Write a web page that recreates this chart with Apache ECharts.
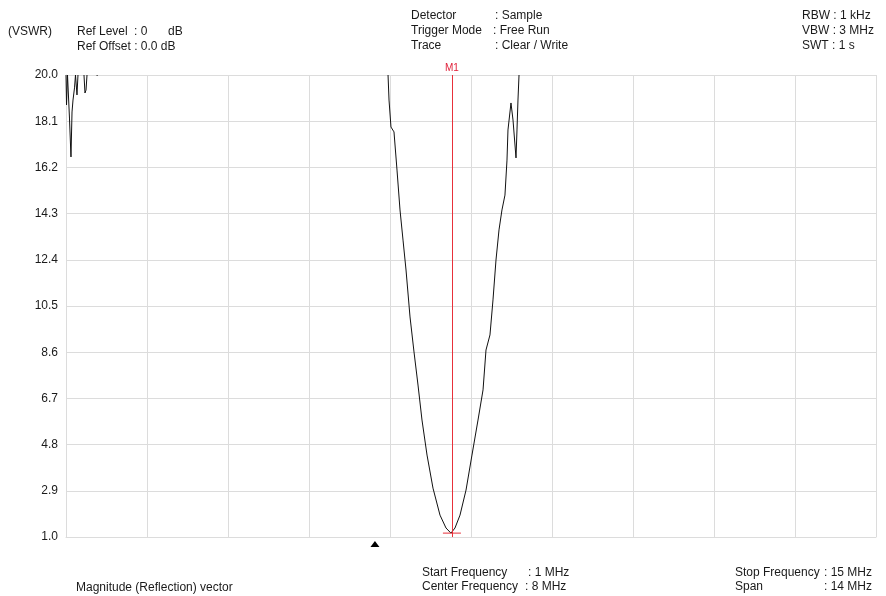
<!DOCTYPE html>
<html>
<head>
<meta charset="utf-8">
<script src="https://cdn.jsdelivr.net/npm/echarts@6/dist/echarts.min.js"></script>
<style>
  html, body { margin: 0; padding: 0; background: #ffffff; }
  #chart { width: 886px; height: 596px; }
</style>
</head>
<body>
<div id="chart"></div>
<script>
// Sweep 1 - 15 MHz, VSWR trace (null = trace above the 20.0 reference, not drawn)
const freqMHz = [
  1.000, 1.009, 1.026, 1.060, 1.086, 1.104, 1.121, 1.147, 1.164, 1.190, 1.207, null,
  1.311, 1.328, 1.346, 1.363, null,
  1.530, 1.545, null,
  6.566, 6.583, 6.617, 6.669, 6.721, 6.773, 6.825, 6.877, 6.946, 7.015, 7.084, 7.153,
  7.240, 7.343, 7.464, 7.568, 7.654, 7.723, 7.810, 7.914, 8.017, 8.121, 8.208, 8.259,
  8.328, 8.380, 8.432, 8.484, 8.535, 8.587, 8.622, 8.639, 8.691, 8.726, 8.778, 8.795,
  8.812, 8.830
];
const vswr = [
  20.00, 18.77, 20.00, 18.23, 16.63, 18.48, 18.97, 19.47, 20.00, 19.18, 20.00, null,
  20.00, 19.26, 19.38, 20.00, null,
  20.00, 19.96, null,
  20.00, 18.97, 17.86, 17.66, 16.09, 14.45, 13.21, 11.98, 10.05, 8.61, 7.25, 5.81,
  4.37, 3.01, 1.90, 1.37, 1.16, 1.37, 1.90, 2.93, 4.37, 5.81, 7.05, 8.69,
  9.31, 10.75, 12.39, 13.63, 14.45, 15.06, 16.50, 17.74, 18.85, 18.15, 16.59, 17.74,
  18.97, 20.00
];

// Ten divisions on each axis
const yTicks = [1.0, 2.9, 4.8, 6.7, 8.6, 10.5, 12.4, 14.3, 16.2, 18.1, 20.0];
const xTicks = [1, 2.4, 3.8, 5.2, 6.6, 8, 9.4, 10.8, 12.2, 13.6, 15];

// Marker M1 and the sweep-position indicator
const markerFreq = 7.67;
const markerVswr = 1.16;
const sweepPosFreq = 6.34;

const tracePoints = freqMHz.map((f, i) => (f === null ? [NaN, NaN] : [f, vswr[i]]));

const FONT = '"Liberation Sans", Arial, sans-serif';
const TXT = '#1a1a1a';
const GRID = '#dcdcdc';

function txt(x, y, s, extra) {
  return Object.assign({
    type: 'text', x: x, y: y, silent: true,
    style: { text: s, fill: TXT, font: '12px ' + FONT, textVerticalAlign: 'middle' }
  }, extra || {});
}

const chart = echarts.init(document.getElementById('chart'), null, { renderer: 'canvas' });

chart.setOption({
  animation: false,
  backgroundColor: '#ffffff',
  grid: { left: 66, right: 10, top: 75, bottom: 59, containLabel: false },
  xAxis: {
    type: 'value', min: 1, max: 15,
    axisLine: { show: true, lineStyle: { color: GRID } },
    axisTick: { show: false, customValues: xTicks },
    axisLabel: { show: false, customValues: xTicks },
    splitLine: { show: true, lineStyle: { color: GRID, width: 1 } }
  },
  yAxis: {
    type: 'value', min: 1, max: 20,
    axisLine: { show: true, lineStyle: { color: GRID } },
    axisTick: { show: false, customValues: yTicks },
    axisLabel: {
      customValues: yTicks, margin: 8, color: TXT, fontSize: 12, fontFamily: FONT,
      formatter: v => v.toFixed(1)
    },
    splitLine: { show: true, lineStyle: { color: GRID, width: 1 } }
  },
  graphic: [
    txt(8, 32, '(VSWR)'),
    txt(77, 32, 'Ref Level'),
    txt(134, 32, ': 0'),
    txt(168, 32, 'dB'),
    txt(77, 47, 'Ref Offset : 0.0 dB'),

    txt(411, 16, 'Detector'),
    txt(495, 16, ': Sample'),
    txt(411, 31, 'Trigger Mode'),
    txt(493, 31, ': Free Run'),
    txt(411, 46, 'Trace'),
    txt(495, 46, ': Clear / Write'),

    txt(802, 16, 'RBW : 1 kHz'),
    txt(802, 31, 'VBW : 3 MHz'),
    txt(802, 46, 'SWT : 1 s'),

    txt(76, 588, 'Magnitude (Reflection) vector'),
    txt(422, 573, 'Start Frequency'),
    txt(528, 573, ': 1 MHz'),
    txt(422, 587, 'Center Frequency'),
    txt(525, 587, ': 8 MHz'),
    txt(735, 573, 'Stop Frequency'),
    txt(824, 573, ': 15 MHz'),
    txt(735, 587, 'Span'),
    txt(824, 587, ': 14 MHz')
  ],
  series: [
    {
      type: 'line',
      data: tracePoints,
      showSymbol: false,
      connectNulls: false,
      clip: true,
      lineStyle: { color: '#111111', width: 1 },
      markLine: {
        silent: true,
        symbol: 'none',
        lineStyle: { color: '#e8303a', width: 1, type: 'solid' },
        label: {
          show: true, position: 'end', formatter: 'M1', color: '#e0203a',
          fontSize: 10, fontFamily: FONT, distance: 2
        },
        data: [{ xAxis: markerFreq }]
      },
      markPoint: {
        silent: true,
        label: { show: false },
        data: [
          {
            coord: [markerFreq, markerVswr], symbol: 'rect', symbolSize: [18, 1],
            itemStyle: { color: '#e8303a' }
          },
          {
            coord: [sweepPosFreq, 1], symbol: 'triangle', symbolSize: [9, 6],
            symbolOffset: [0, 7], itemStyle: { color: '#000000' }
          }
        ]
      }
    }
  ]
});
</script>
</body>
</html>
